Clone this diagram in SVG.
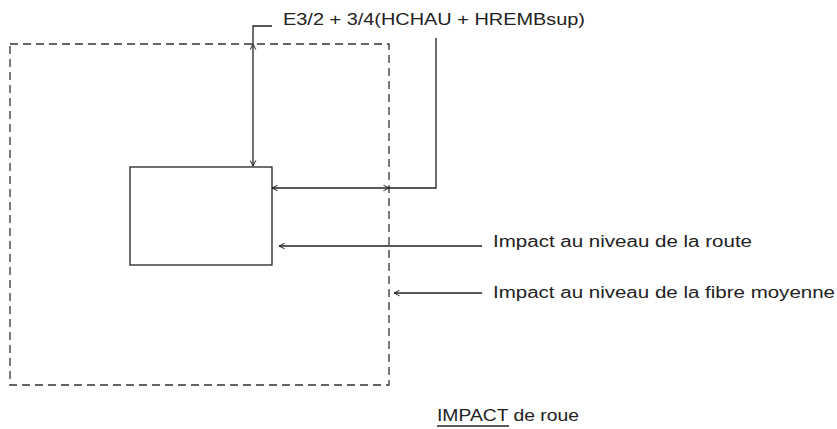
<svg xmlns="http://www.w3.org/2000/svg" width="837" height="429" viewBox="0 0 837 429">
<style>
.ln{fill:none;stroke:#222;stroke-width:1.3}
.ds{fill:none;stroke:#333;stroke-width:1.3;stroke-dasharray:8 5}
.t{font-family:"Liberation Sans",Arial,sans-serif;font-size:16px;fill:#222}
</style>
<defs>
<marker id="ah" viewBox="0 0 10 10" refX="9" refY="5" markerWidth="7" markerHeight="7" orient="auto-start-reverse" markerUnits="userSpaceOnUse">
<path d="M1,1 L9,5 L1,9" fill="none" stroke="#222" stroke-width="1.4"/>
</marker>
</defs>
<rect width="837" height="429" fill="#fff"/>
<g id="fibre-moyenne">
<rect class="ds" x="10" y="44" width="379" height="341"/>
</g>
<g id="route">
<rect class="ln" x="130" y="167" width="142" height="98"/>
</g>
<g id="connectors">
<polyline class="ln" points="272,26 253,26 253,44"/>
<line class="ln" x1="253" y1="44" x2="253" y2="166" marker-start="url(#ah)" marker-end="url(#ah)"/>
<polyline class="ln" points="436,38 436,188 389,188"/>
<line class="ln" x1="389" y1="188" x2="272" y2="188" marker-start="url(#ah)" marker-end="url(#ah)"/>
<line class="ln" x1="482" y1="246" x2="279" y2="246" marker-end="url(#ah)"/>
<line class="ln" x1="482" y1="293" x2="394" y2="293" marker-end="url(#ah)"/>
</g>
<g id="labels">
<text class="t" x="283" y="25" textLength="302" lengthAdjust="spacingAndGlyphs">E3/2  +  3/4(HCHAU + HREMBsup)</text>
<text class="t" x="493" y="247" textLength="259" lengthAdjust="spacingAndGlyphs">Impact au niveau de la route</text>
<text class="t" x="493" y="298" textLength="342" lengthAdjust="spacingAndGlyphs">Impact au niveau de la fibre moyenne</text>
<text class="t" x="437" y="421" textLength="142" lengthAdjust="spacingAndGlyphs">IMPACT de roue</text>
<line class="ln" x1="437" y1="426" x2="509" y2="426" stroke-width="1"/>
</g>
</svg>
